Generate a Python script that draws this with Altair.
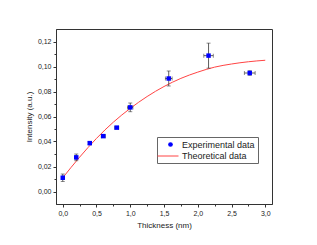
import altair as alt
import pandas as pd

# Experimental data
exp_x = [0.0, 0.2, 0.4, 0.6, 0.8, 1.0, 1.57, 2.16, 2.77]
exp_y = [0.011, 0.0273, 0.0387, 0.0443, 0.0511, 0.0673, 0.0904, 0.1087, 0.0948]
exp_yerr = [0.003, 0.0027, 0.001, 0.0012, 0.0008, 0.0035, 0.006, 0.010, 0.0018]
exp_xerr = [0.01, 0.01, 0.02, 0.03, 0.03, 0.04, 0.05, 0.07, 0.08]

# Theoretical curve
th_x = [0.0, 0.25, 0.5, 0.75, 1.0, 1.25, 1.5, 1.75, 2.0, 2.25, 2.5, 2.75, 3.0]
th_y = [0.011, 0.0275, 0.0425, 0.0555, 0.0665, 0.0760, 0.0840, 0.0905,
        0.0955, 0.0995, 0.1020, 0.1038, 0.1050]

x_major = [0.0, 0.5, 1.0, 1.5, 2.0, 2.5, 3.0]
x_minor = [0.25, 0.75, 1.25, 1.75, 2.25, 2.75]
y_major = [0.0, 0.02, 0.04, 0.06, 0.08, 0.10, 0.12]
y_minor = [0.01, 0.03, 0.05, 0.07, 0.09, 0.11]

EXP = "Experimental data"
THE = "Theoretical data"

exp_df = pd.DataFrame({
    "x": exp_x, "y": exp_y,
    "ylo": [a - b for a, b in zip(exp_y, exp_yerr)],
    "yhi": [a + b for a, b in zip(exp_y, exp_yerr)],
    "xlo": [a - b for a, b in zip(exp_x, exp_xerr)],
    "xhi": [a + b for a, b in zip(exp_x, exp_xerr)],
    "series": [EXP] * len(exp_x),
})
th_df = pd.DataFrame({"x": th_x, "y": th_y, "series": [THE] * len(th_x)})

FONT = "Liberation Sans"
TXT = "#222222"
ERR = "#333333"

xscale = alt.Scale(domain=[-0.1, 3.1], nice=False, zero=False)
yscale = alt.Scale(domain=[-0.01, 0.13], nice=False, zero=False)

xaxis = alt.Axis(
    title="Thickness (nm)", values=x_major, orient="bottom",
    labelExpr="replace(format(datum.value, '.1f'), '.', ',')",
    tickSize=3, grid=False, labelFontSize=7, titleFontSize=8,
    labelPadding=2, titlePadding=5, labelFlush=False, labelOverlap=False,
)
xaxis_minor = alt.Axis(
    title=None, values=x_minor, orient="bottom", labels=False, domain=False,
    tickSize=2, grid=False,
)
yaxis = alt.Axis(
    title="Intensity (a.u.)", values=y_major, orient="left",
    labelExpr="replace(format(datum.value, '.2f'), '.', ',')",
    tickSize=3, grid=False, labelFontSize=7, titleFontSize=8,
    labelPadding=2, titlePadding=4, labelFlush=False, labelOverlap=False,
)
yaxis_minor = alt.Axis(
    title=None, values=y_minor, orient="left", labels=False, domain=False,
    tickSize=2, grid=False,
)

legend_pts = alt.Legend(
    title=" ", titleOrient="bottom", titleFontSize=9, titlePadding=1,
    orient="none", legendX=101, legendY=108,
    fillColor="white", strokeColor="#666666", padding=3,
    labelFont=FONT, labelFontSize=9, labelColor=TXT, labelOffset=7,
    symbolType="circle", symbolSize=22, symbolOffset=6, symbolStrokeWidth=0,
    zindex=1,
)
legend_line = alt.Legend(
    title=None, orient="none", legendX=98, legendY=113, padding=3,
    labelFont=FONT, labelFontSize=9, labelColor=TXT, labelOffset=3,
    symbolType="stroke", symbolSize=441, symbolStrokeWidth=1,
    zindex=2,
)

curve = alt.Chart(th_df).mark_line(interpolate="monotone", strokeWidth=1).encode(
    x=alt.X("x:Q", scale=xscale, axis=xaxis),
    y=alt.Y("y:Q", scale=yscale, axis=yaxis),
    stroke=alt.Stroke("series:N", scale=alt.Scale(domain=[THE], range=["#ff4444"]),
                      legend=legend_line),
)

base = alt.Chart(exp_df)
ebar_y = base.mark_rule(color=ERR, strokeWidth=0.8).encode(
    x=alt.X("x:Q", axis=xaxis_minor),
    y=alt.Y("ylo:Q", axis=yaxis_minor),
    y2="yhi:Q")
ebar_x = base.mark_rule(color=ERR, strokeWidth=0.8).encode(
    y=alt.Y("y:Q", axis=None), x=alt.X("xlo:Q", axis=None), x2="xhi:Q")
cap_ylo = base.mark_tick(orient="horizontal", color=ERR, size=4, thickness=0.8).encode(
    x=alt.X("x:Q", axis=None), y=alt.Y("ylo:Q", axis=None))
cap_yhi = base.mark_tick(orient="horizontal", color=ERR, size=4, thickness=0.8).encode(
    x=alt.X("x:Q", axis=None), y=alt.Y("yhi:Q", axis=None))
cap_xlo = base.mark_tick(orient="vertical", color=ERR, size=4, thickness=0.8).encode(
    x=alt.X("xlo:Q", axis=None), y=alt.Y("y:Q", axis=None))
cap_xhi = base.mark_tick(orient="vertical", color=ERR, size=4, thickness=0.8).encode(
    x=alt.X("xhi:Q", axis=None), y=alt.Y("y:Q", axis=None))

points = base.mark_square(size=20, opacity=1).encode(
    x=alt.X("x:Q", axis=None), y=alt.Y("y:Q", axis=None),
    color=alt.Color("series:N", scale=alt.Scale(domain=[EXP], range=["#0000ff"]),
                    legend=legend_pts),
)

chart = alt.layer(curve, ebar_y, ebar_x, cap_ylo, cap_yhi, cap_xlo, cap_xhi, points).resolve_scale(
    color="independent", stroke="independent"
).resolve_axis(
    x="independent", y="independent"
).properties(
    width=216, height=175,
    autosize=alt.AutoSizeParams(type="none"),
    padding={"left": 48, "top": 21, "right": 37, "bottom": 33},
    background="white",
).configure_view(
    stroke="#333333", strokeWidth=1,
).configure_axis(
    domainColor="#333333", tickColor="#333333", labelColor=TXT, titleColor=TXT,
    labelFont=FONT, titleFont=FONT, titleFontWeight="normal",
)

chart.save("out.html", embed_options={"renderer": "svg", "actions": False})
